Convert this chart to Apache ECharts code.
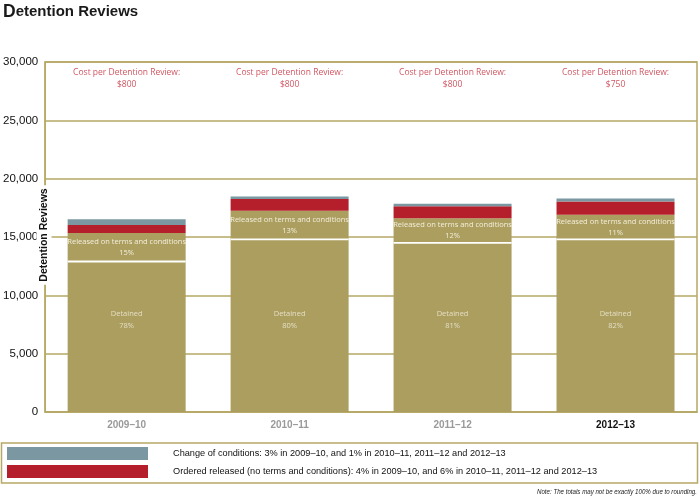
<!DOCTYPE html>
<html>
<head>
<meta charset="utf-8">
<script src="https://cdn.jsdelivr.net/npm/echarts@6/dist/echarts.min.js"></script>
<style>html,body{margin:0;padding:0;background:#fff}#c{width:700px;height:497px}</style>
</head>
<body>
<div id="c"></div>
<script>
var categories = ['2009\u201310', '2010\u201311', '2011\u201312', '2012\u201313'];
var detained = [12900, 14800, 14500, 14800];
var released = [2450, 2450, 2100, 2100];
var ordered = [680, 1000, 1030, 1150];
var change = [500, 220, 230, 260];
var detainedPct = ['78%', '80%', '81%', '82%'];
var releasedPct = ['15%', '13%', '12%', '11%'];
var costs = ['$800', '$800', '$800', '$750'];
var costLabelLevel = [28600, 28600, 28600, 28600];
var detainedLabelLevel = [7900, 7900, 7900, 7900];
var yTicks = [0, 5000, 10000, 15000, 20000, 25000, 30000];
var legendText = {
  'Change of conditions': 'Change of conditions: 3% in 2009\u201310, and 1% in 2010\u201311, 2011\u201312 and 2012\u201313',
  'Ordered released': 'Ordered released (no terms and conditions): 4% in 2009\u201310, and 6% in 2010\u201311, 2011\u201312 and 2012\u201313'
};

var GOLD = '#ab9e5f';
var LINE = '#b6a866';
var RED = '#b51f2b';
var GRAY = '#7b98a2';
var LBL = '#f4efdd';
var BARW = 118;

var chart = echarts.init(document.getElementById('c'), null, {renderer: 'canvas'});
chart.setOption({
  animation: false,
  backgroundColor: '#fff',
  title: {
    left: 3, top: 3, padding: 0,
    text: '{a|D}{b|etention Reviews}',
    textStyle: {
      rich: {
        a: {fontFamily: 'Liberation Sans, Arial', fontWeight: 'bold', fontSize: 17.5, color: '#1a1a1a'},
        b: {fontFamily: 'Liberation Sans, Arial', fontSize: 15, color: '#1a1a1a'}
      }
    }
  },
  grid: {left: 44, right: 3, top: 62, bottom: 85, show: true, borderColor: LINE, borderWidth: 1.5, containLabel: false},
  legend: {
    orient: 'vertical', left: 7, top: 447, padding: 0, itemGap: 5,
    itemWidth: 141, itemHeight: 13, icon: 'rect',
    data: ['Change of conditions', 'Ordered released'],
    formatter: function (n) { return legendText[n]; },
    textStyle: {fontFamily: 'Liberation Sans, Arial', fontSize: 9.2, color: '#111', padding: [2, 0, 0, 20]},
    selectedMode: false
  },
  xAxis: {
    type: 'category', data: categories,
    axisLine: {show: true, lineStyle: {color: LINE, width: 1.5}},
    axisTick: {show: false},
    axisLabel: {
      margin: 8, fontFamily: 'Liberation Sans, Arial', fontWeight: 'bold', fontSize: 10,
      color: function (v, i) { return i === 3 ? '#111' : '#9a9a9a'; }
    }
  },
  yAxis: {
    type: 'value', min: yTicks[0], max: yTicks[yTicks.length - 1], interval: 5000,
    axisLine: {show: true, lineStyle: {color: LINE, width: 1.5}},
    axisTick: {show: false},
    axisLabel: {margin: 7, fontFamily: 'Liberation Sans, Arial', fontSize: 11.5, color: '#111'},
    splitLine: {show: true, lineStyle: {color: LINE, width: 1.5}}
  },
  graphic: [
    {type: 'text', x: 44, y: 235, rotation: Math.PI / 2, z: 100,
     style: {text: 'Detention Reviews', fontFamily: 'Liberation Sans, Arial', fontWeight: 'bold', fontSize: 10.5,
             fill: '#111', textAlign: 'center', textVerticalAlign: 'middle', backgroundColor: '#fff', padding: [2, 3]}},
    {type: 'rect', shape: {x: 1.5, y: 443, width: 696, height: 40}, z: -1,
     style: {fill: 'none', stroke: LINE, lineWidth: 1.5}},
    {type: 'text', x: 697, y: 492, scaleX: 0.82,
     style: {text: 'Note: The totals may not be exactly 100% due to rounding.', fontFamily: 'Liberation Sans, Arial',
             fontStyle: 'italic', fontSize: 7.5, fill: '#222', textAlign: 'right', textVerticalAlign: 'middle'}}
  ],
  series: [
    {
      name: 'Detained', type: 'bar', stack: 't', barWidth: BARW, data: detained,
      itemStyle: {color: GOLD}
    },
    {
      name: 'Released on terms', type: 'bar', stack: 't', barWidth: BARW, data: released,
      itemStyle: {color: GOLD},
      label: {show: true, position: 'inside', fontFamily: 'Open Sans', fontSize: 7.5, lineHeight: 11, color: LBL,
              formatter: function (p) { return 'Released on terms and conditions\n' + releasedPct[p.dataIndex]; }}
    },
    {
      name: 'Ordered released', type: 'bar', stack: 't', barWidth: BARW, data: ordered,
      itemStyle: {color: RED}
    },
    {
      name: 'Change of conditions', type: 'bar', stack: 't', barWidth: BARW, data: change,
      itemStyle: {color: GRAY}
    },
    {
      name: 'Separator', type: 'custom', z: 5, silent: true,
      data: detained.map(function (v, i) { return [i, v]; }),
      renderItem: function (params, api) {
        var p = api.coord([api.value(0), api.value(1)]);
        return {type: 'line', shape: {x1: p[0] - BARW / 2, y1: p[1], x2: p[0] + BARW / 2, y2: p[1]},
                style: {stroke: '#fff', lineWidth: 1.8}};
      }
    },
    {
      name: 'DetainedLabel', type: 'scatter', symbolSize: 0, data: detainedLabelLevel, silent: true, z: 6,
      label: {show: true, position: 'inside', fontFamily: 'Open Sans', fontSize: 7.5, lineHeight: 12, color: LBL,
              formatter: function (p) { return 'Detained\n' + detainedPct[p.dataIndex]; }}
    },
    {
      name: 'Cost', type: 'scatter', symbolSize: 0, data: costLabelLevel, silent: true,
      label: {show: true, position: 'inside', fontFamily: 'Open Sans', fontSize: 8.5, lineHeight: 12, color: '#c42a3a',
              formatter: function (p) { return 'Cost per Detention Review:\n' + costs[p.dataIndex]; }}
    }
  ]
});
</script>
</body>
</html>
